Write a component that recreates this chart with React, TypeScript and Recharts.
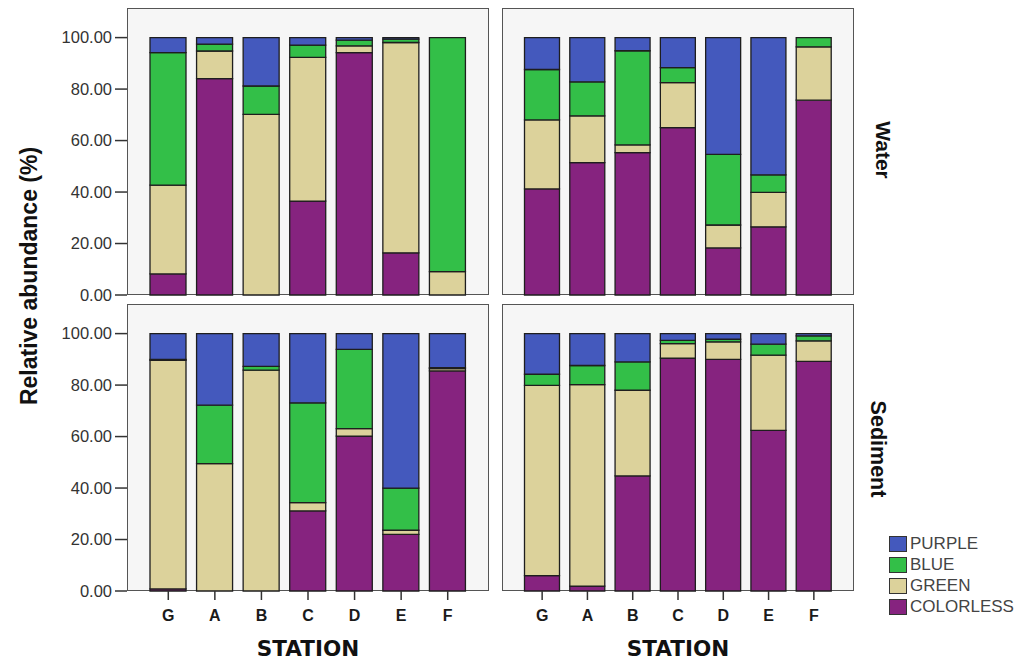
import React from 'react';
import { BarChart, Bar, XAxis, YAxis } from 'recharts';

const stations = ['G', 'A', 'B', 'C', 'D', 'E', 'F'];
const seriesNames = ['COLORLESS', 'GREEN', 'BLUE', 'PURPLE'];
const seriesColors = ['#86237f', '#dcd29b', '#33bf48', '#4459bd'];
const yTicks = [0, 20, 40, 60, 80, 100];
const panelTitles = ['Water', 'Sediment'];
const xTitle = 'STATION';
const yTitle = 'Relative abundance (%)';

// Water – left panel
const waterLeftColorless = [8.2, 84.1, 0, 36.5, 94.2, 16.4, 0];
const waterLeftGreen = [34.5, 10.7, 70.2, 55.8, 2.6, 81.7, 9.1];
const waterLeftBlue = [51.5, 2.7, 11.0, 4.8, 2.2, 1.3, 90.9];
const waterLeftPurple = [5.8, 2.5, 18.8, 2.9, 1.0, 0.6, 0];

// Water – right panel
const waterRightColorless = [41.2, 51.4, 55.3, 65.0, 18.3, 26.5, 75.7];
const waterRightGreen = [26.8, 18.2, 3.0, 17.5, 8.9, 13.4, 20.7];
const waterRightBlue = [19.6, 13.2, 36.6, 5.8, 27.4, 6.8, 3.6];
const waterRightPurple = [12.4, 17.2, 5.1, 11.7, 45.4, 53.3, 0];

// Sediment – left panel
const sedLeftColorless = [0.8, 0, 0, 31.1, 60.2, 22.0, 85.5];
const sedLeftGreen = [88.8, 49.5, 85.8, 3.2, 2.9, 1.6, 0.9];
const sedLeftBlue = [0.4, 22.7, 1.5, 38.8, 30.8, 16.4, 0.4];
const sedLeftPurple = [10.0, 27.8, 12.7, 26.9, 6.1, 60.0, 13.2];

// Sediment – right panel
const sedRightColorless = [6.0, 1.9, 44.7, 90.5, 90.0, 62.4, 89.2];
const sedRightGreen = [73.9, 78.3, 33.3, 5.6, 6.8, 29.2, 8.0];
const sedRightBlue = [4.3, 7.4, 11.0, 1.3, 1.0, 4.3, 1.9];
const sedRightPurple = [15.8, 12.4, 11.0, 2.6, 2.2, 4.1, 0.9];

function rows(cols: number[][]) {
  return stations.map((s, i) => {
    const r: any = { station: s };
    seriesNames.forEach((n, k) => {
      r[n] = cols[k][i];
    });
    return r;
  });
}

const Y_DOMAIN: [number, number] = [0, 111.5];
const Y_AXIS_W = 70;

type Frame = { x: number; y: number; w: number; h: number };
type PanelProps = {
  left: number;
  top: number;
  width: number;
  height: number;
  frame: Frame;
  data: any[];
  showY: boolean;
  showX: boolean;
  barSize: number;
  pad: number;
};

function Panel(p: PanelProps) {
  const xAxisH = p.showX ? 40 : 0;
  const margin = {
    top: p.frame.y - p.top,
    left: p.frame.x - p.left - (p.showY ? Y_AXIS_W : 0),
    right: p.left + p.width - p.frame.x - p.frame.w,
    bottom: p.top + p.height - p.frame.y - p.frame.h - xAxisH,
  };
  return (
    <>
      <div
        style={{
          position: 'absolute',
          left: p.frame.x,
          top: p.frame.y,
          width: p.frame.w,
          height: p.frame.h,
          background: '#f6f6f6',
          border: '1.5px solid #555',
          boxSizing: 'border-box',
        }}
      />
      <div style={{ position: 'absolute', left: p.left, top: p.top }}>
        <BarChart
          width={p.width}
          height={p.height}
          data={p.data}
          margin={margin}
          style={{ overflow: 'visible' }}
        >
          <XAxis
            dataKey="station"
            hide={!p.showX}
            height={xAxisH}
            padding={{ left: p.pad, right: p.pad }}
            axisLine={false}
            tickLine={{ stroke: '#333', strokeWidth: 1.5 }}
            tickSize={9}
            tickMargin={10}
            interval={0}
            tick={{ fontSize: 16, fontWeight: 'bold', fill: '#1a1a1a', fontFamily: 'Liberation Sans, Arial, sans-serif' }}
          />
          <YAxis
            type="number"
            domain={Y_DOMAIN}
            ticks={yTicks}
            hide={!p.showY}
            width={Y_AXIS_W}
            axisLine={false}
            tickLine={{ stroke: '#333', strokeWidth: 1.5 }}
            tickSize={12}
            tickMargin={3}
            interval={0}
            tickFormatter={(v: number) => v.toFixed(2)}
            tick={{ fontSize: 16.5, fill: '#333', fontFamily: 'Liberation Sans, Arial, sans-serif' }}
          />
          {seriesNames.map((n, k) => (
            <Bar
              key={n}
              dataKey={n}
              stackId="s"
              fill={seriesColors[k]}
              stroke="#1e1e1e"
              strokeWidth={1.3}
              barSize={p.barSize}
              isAnimationActive={false}
            />
          ))}
        </BarChart>
      </div>
    </>
  );
}

export default function App() {
  const boldSans = 'Liberation Sans, Arial, sans-serif';
  return (
    <div
      style={{
        position: 'absolute',
        left: 0,
        top: 0,
        width: 1027,
        height: 661,
        background: '#ffffff',
        overflow: 'hidden',
      }}
    >
      <Panel
        left={0}
        top={0}
        width={500}
        height={312}
        frame={{ x: 127, y: 8, w: 362, h: 287 }}
        data={rows([waterLeftColorless, waterLeftGreen, waterLeftBlue, waterLeftPurple])}
        showY
        showX={false}
        barSize={36}
        pad={18}
      />
      <Panel
        left={495}
        top={0}
        width={375}
        height={312}
        frame={{ x: 502, y: 8, w: 352, h: 287 }}
        data={rows([waterRightColorless, waterRightGreen, waterRightBlue, waterRightPurple])}
        showY={false}
        showX={false}
        barSize={35}
        pad={17.5}
      />
      <Panel
        left={0}
        top={300}
        width={500}
        height={361}
        frame={{ x: 127, y: 304, w: 362, h: 287 }}
        data={rows([sedLeftColorless, sedLeftGreen, sedLeftBlue, sedLeftPurple])}
        showY
        showX
        barSize={36}
        pad={18}
      />
      <Panel
        left={495}
        top={300}
        width={375}
        height={361}
        frame={{ x: 502, y: 304, w: 352, h: 287 }}
        data={rows([sedRightColorless, sedRightGreen, sedRightBlue, sedRightPurple])}
        showY={false}
        showX
        barSize={35}
        pad={17.5}
      />
      <svg
        width={1027}
        height={661}
        style={{ position: 'absolute', left: 0, top: 0, pointerEvents: 'none' }}
      >
        <text
          transform="translate(29,276) rotate(-90)"
          textAnchor="middle"
          dominantBaseline="central"
          fontFamily={boldSans}
          fontWeight="bold"
          fontSize={23}
          fill="#111"
        >
          {yTitle}
        </text>
        <text
          transform="translate(883,150) rotate(90)"
          textAnchor="middle"
          dominantBaseline="central"
          fontFamily={boldSans}
          fontWeight="bold"
          fontSize={21}
          fill="#111"
        >
          {panelTitles[0]}
        </text>
        <text
          transform="translate(878,449) rotate(90)"
          textAnchor="middle"
          dominantBaseline="central"
          fontFamily={boldSans}
          fontWeight="bold"
          fontSize={21.5}
          fill="#111"
        >
          {panelTitles[1]}
        </text>
        <text
          x={308}
          y={648}
          textAnchor="middle"
          dominantBaseline="central"
          fontFamily="DejaVu Sans, sans-serif"
          fontWeight="bold"
          fontSize={21.5}
          fill="#111"
        >
          {xTitle}
        </text>
        <text
          x={678}
          y={648}
          textAnchor="middle"
          dominantBaseline="central"
          fontFamily="DejaVu Sans, sans-serif"
          fontWeight="bold"
          fontSize={21.5}
          fill="#111"
        >
          {xTitle}
        </text>
      </svg>
      <div style={{ position: 'absolute', left: 889, top: 533 }}>
        {seriesNames
          .map((n, k) => ({ n, c: seriesColors[k] }))
          .reverse()
          .map((it) => (
            <div
              key={it.n}
              style={{ display: 'flex', alignItems: 'center', height: 21 }}
            >
              <div
                style={{
                  width: 18,
                  height: 16,
                  background: it.c,
                  border: '1.3px solid #333',
                  boxSizing: 'border-box',
                  marginRight: 3,
                }}
              />
              <span
                style={{
                  fontFamily: 'Liberation Sans, Arial, sans-serif',
                  fontSize: 17,
                  color: '#444',
                  lineHeight: '21px',
                }}
              >
                {it.n}
              </span>
            </div>
          ))}
      </div>
    </div>
  );
}
